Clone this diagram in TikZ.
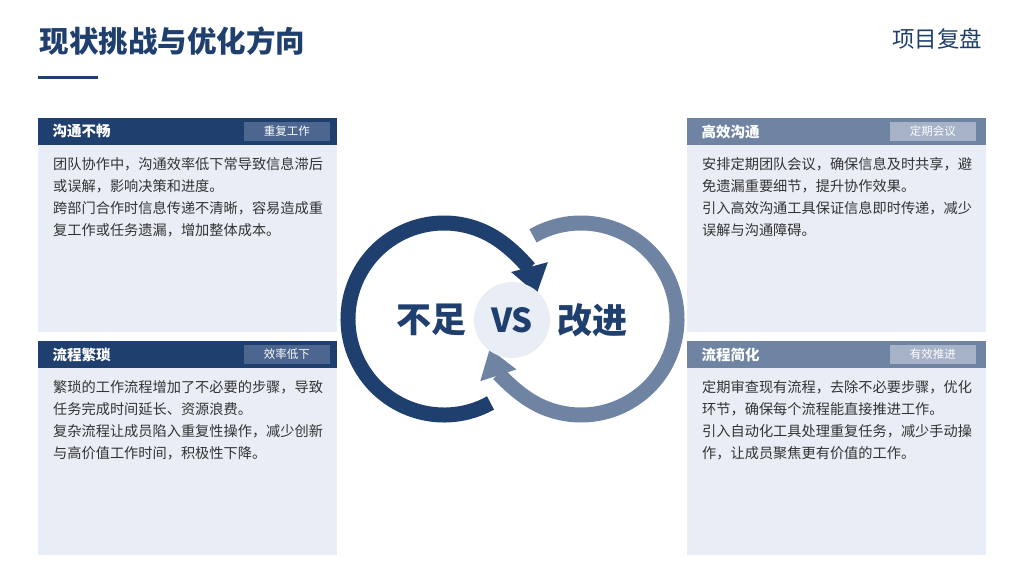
\documentclass[tikz,border=0pt]{standalone}
\usepackage{fontspec}
\setmainfont{Noto Sans CJK SC}
\usetikzlibrary{positioning,arrows.meta,calc}
\definecolor{dunkel}{HTML}{1F3F6E}
\definecolor{hell}{HTML}{6F83A3}
\definecolor{karte}{HTML}{E9EEF6}
\definecolor{tagdunkel}{HTML}{4C6690}
\definecolor{taghell}{HTML}{A5B2C7}
\begin{document}
\begin{tikzpicture}[x=1pt,y=1pt,
  kopf/.style={anchor=north west,minimum width=299,minimum height=27,inner sep=0,outer sep=0},
  koerper/.style={anchor=north west,fill=karte,minimum width=299,minimum height=187,inner sep=0,outer sep=0},
  kopftext/.style={anchor=west,text=white,font=\bfseries\fontsize{14.5}{16}\selectfont},
  etikett/.style={anchor=east,minimum width=86,minimum height=19,inner sep=0,text=white,font=\fontsize{11.5}{12}\selectfont},
  fliess/.style={anchor=north west,align=left,inner sep=0,text=black!80,font=\fontsize{14.2}{22}\selectfont},
  ring/.style={line width=15,line cap=butt}]
\useasboundingbox (0,0) rectangle (1024,576);

%Titel
\node[anchor=west,text=dunkel,font=\bfseries\fontsize{29.5}{32}\selectfont] (titel) at (36,535) {现状挑战与优化方向};
\node[anchor=east,text=dunkel,font=\fontsize{22.5}{24}\selectfont] (rubrik) at (986,537) {项目复盘};
\fill[dunkel] (38,496.5) rectangle (98,499.5);

%Karten links
\node[kopf,fill=dunkel] (k1) at (38,458) {};
\node[koerper] (b1) at (38,431) {};
\node[kopftext] at ([xshift=11]k1.west) {沟通不畅};
\node[etikett,fill=tagdunkel] (e1) at ([xshift=-7]k1.east) {重复工作};
\node[fliess] (t1) at ([xshift=15,yshift=-12]b1.north west) {团队协作中，沟通效率低下常导致信息滞后\\或误解，影响决策和进度。\\跨部门合作时信息传递不清晰，容易造成重\\复工作或任务遗漏，增加整体成本。};

\node[kopf,fill=dunkel] (k2) at (38,235) {};
\node[koerper] (b2) at (38,208) {};
\node[kopftext] at ([xshift=11]k2.west) {流程繁琐};
\node[etikett,fill=tagdunkel] (e2) at ([xshift=-7]k2.east) {效率低下};
\node[fliess] (t2) at ([xshift=15,yshift=-12]b2.north west) {繁琐的工作流程增加了不必要的步骤，导致\\任务完成时间延长、资源浪费。\\复杂流程让成员陷入重复性操作，减少创新\\与高价值工作时间，积极性下降。};

%Karten rechts
\node[kopf,fill=hell] (k3) at (687,458) {};
\node[koerper] (b3) at (687,431) {};
\node[kopftext] at ([xshift=11]k3.west) {高效沟通};
\node[etikett,fill=taghell] (e3) at ([xshift=-10]k3.east) {定期会议};
\node[fliess] (t3) at ([xshift=15,yshift=-12]b3.north west) {安排定期团队会议，确保信息及时共享，避\\免遗漏重要细节，提升协作效果。\\引入高效沟通工具保证信息即时传递，减少\\误解与沟通障碍。};

\node[kopf,fill=hell] (k4) at (687,235) {};
\node[koerper] (b4) at (687,208) {};
\node[kopftext] at ([xshift=11]k4.west) {流程简化};
\node[etikett,fill=taghell] (e4) at ([xshift=-10]k4.east) {有效推进};
\node[fliess] (t4) at ([xshift=15,yshift=-12]b4.north west) {定期审查现有流程，去除不必要步骤，优化\\环节，确保每个流程能直接推进工作。\\引入自动化工具处理重复任务，减少手动操\\作，让成员聚焦更有价值的工作。};

%Kreise
\coordinate (L) at (444,257);
\coordinate (R) at (581,257);
\fill[white] (L) circle (104);
\fill[white] (R) circle (104);
\draw[ring,draw=hell,-{Triangle[length=28,width=36]}] ($(R)+(120:96)$) arc[start angle=120,end angle=-162,radius=96];
\draw[ring,draw=dunkel,-{Triangle[length=28,width=36]}] ($(L)+(-61:96)$) arc[start angle=-61,end angle=-345,radius=96];
\node[circle,fill=karte,minimum size=76,inner sep=0,text=dunkel,font=\bfseries\fontsize{33}{36}\selectfont] (vs) at (512,256) {VS};
\node[left=4pt of vs,text=dunkel,font=\bfseries\fontsize{35}{38}\selectfont] (nicht) {不足};
\node[right=4pt of vs,text=dunkel,font=\bfseries\fontsize{35}{38}\selectfont] (besser) {改进};
\end{tikzpicture}
\end{document}
